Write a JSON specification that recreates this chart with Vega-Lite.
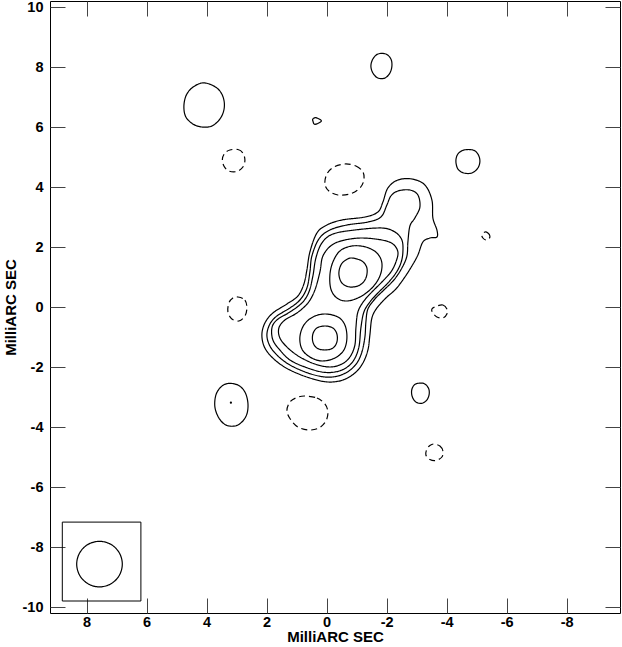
{
"$schema":"https://vega.github.io/schema/vega-lite/v6.json",
"width":570,"height":612,
"autosize":{"type":"none"},
"padding":{"left":50,"top":1,"right":2,"bottom":34},
"config":{"view":{"stroke":"black","strokeWidth":1},
"axis":{"labelFont":"Liberation Sans","labelFontWeight":"bold","labelFontSize":14.5,"labelColor":"black","titleFont":"Liberation Sans","titleFontWeight":"bold","titleFontSize":15,"titleColor":"black","tickColor":"#444","tickSize":-15,"grid":false,"domain":false}},
"datasets":{
"contours":[
{"c":"L1","s":"pos","x":-2.377,"y":4.233},{"c":"L1","s":"pos","x":-2.843,"y":4.267},{"c":"L1","s":"pos","x":-3.277,"y":4.067},{"c":"L1","s":"pos","x":-3.51,"y":3.567},{"c":"L1","s":"pos","x":-3.543,"y":2.967},{"c":"L1","s":"pos","x":-3.677,"y":2.567},{"c":"L1","s":"pos","x":-3.677,"y":2.333},{"c":"L1","s":"pos","x":-3.443,"y":2.3},{"c":"L1","s":"pos","x":-3.21,"y":2.167},{"c":"L1","s":"pos","x":-3.043,"y":1.733},{"c":"L1","s":"pos","x":-2.843,"y":1.367},{"c":"L1","s":"pos","x":-2.61,"y":1.0},{"c":"L1","s":"pos","x":-2.31,"y":0.6},{"c":"L1","s":"pos","x":-1.977,"y":0.3},{"c":"L1","s":"pos","x":-1.677,"y":-0.033},{"c":"L1","s":"pos","x":-1.51,"y":-0.367},{"c":"L1","s":"pos","x":-1.443,"y":-0.933},{"c":"L1","s":"pos","x":-1.377,"y":-1.433},{"c":"L1","s":"pos","x":-1.21,"y":-1.867},{"c":"L1","s":"pos","x":-0.943,"y":-2.2},{"c":"L1","s":"pos","x":-0.543,"y":-2.433},{"c":"L1","s":"pos","x":-0.043,"y":-2.5},{"c":"L1","s":"pos","x":0.557,"y":-2.367},{"c":"L1","s":"pos","x":1.223,"y":-2.1},{"c":"L1","s":"pos","x":1.723,"y":-1.767},{"c":"L1","s":"pos","x":2.057,"y":-1.367},{"c":"L1","s":"pos","x":2.157,"y":-0.933},{"c":"L1","s":"pos","x":2.057,"y":-0.533},{"c":"L1","s":"pos","x":1.79,"y":-0.2},{"c":"L1","s":"pos","x":1.323,"y":0.1},{"c":"L1","s":"pos","x":0.957,"y":0.367},{"c":"L1","s":"pos","x":0.757,"y":0.767},{"c":"L1","s":"pos","x":0.657,"y":1.233},{"c":"L1","s":"pos","x":0.557,"y":1.833},{"c":"L1","s":"pos","x":0.323,"y":2.467},{"c":"L1","s":"pos","x":-0.01,"y":2.733},{"c":"L1","s":"pos","x":-0.51,"y":2.9},{"c":"L1","s":"pos","x":-1.277,"y":3.0},{"c":"L1","s":"pos","x":-1.71,"y":3.167},{"c":"L1","s":"pos","x":-1.877,"y":3.5},{"c":"L1","s":"pos","x":-2.043,"y":3.967},
{"c":"L2","s":"pos","x":-2.377,"y":3.867},{"c":"L2","s":"pos","x":-2.777,"y":3.9},{"c":"L2","s":"pos","x":-3.043,"y":3.733},{"c":"L2","s":"pos","x":-3.11,"y":3.333},{"c":"L2","s":"pos","x":-2.943,"y":2.967},{"c":"L2","s":"pos","x":-2.777,"y":2.7},{"c":"L2","s":"pos","x":-2.71,"y":2.167},{"c":"L2","s":"pos","x":-2.677,"y":1.7},{"c":"L2","s":"pos","x":-2.51,"y":1.3},{"c":"L2","s":"pos","x":-2.243,"y":0.9},{"c":"L2","s":"pos","x":-1.91,"y":0.567},{"c":"L2","s":"pos","x":-1.61,"y":0.267},{"c":"L2","s":"pos","x":-1.377,"y":-0.067},{"c":"L2","s":"pos","x":-1.31,"y":-0.5},{"c":"L2","s":"pos","x":-1.277,"y":-1.0},{"c":"L2","s":"pos","x":-1.177,"y":-1.5},{"c":"L2","s":"pos","x":-1.01,"y":-1.867},{"c":"L2","s":"pos","x":-0.743,"y":-2.133},{"c":"L2","s":"pos","x":-0.377,"y":-2.3},{"c":"L2","s":"pos","x":0.057,"y":-2.333},{"c":"L2","s":"pos","x":0.623,"y":-2.2},{"c":"L2","s":"pos","x":1.223,"y":-1.933},{"c":"L2","s":"pos","x":1.623,"y":-1.633},{"c":"L2","s":"pos","x":1.89,"y":-1.3},{"c":"L2","s":"pos","x":1.99,"y":-0.933},{"c":"L2","s":"pos","x":1.89,"y":-0.567},{"c":"L2","s":"pos","x":1.657,"y":-0.3},{"c":"L2","s":"pos","x":1.223,"y":-0.033},{"c":"L2","s":"pos","x":0.89,"y":0.233},{"c":"L2","s":"pos","x":0.657,"y":0.633},{"c":"L2","s":"pos","x":0.557,"y":1.167},{"c":"L2","s":"pos","x":0.49,"y":1.7},{"c":"L2","s":"pos","x":0.257,"y":2.267},{"c":"L2","s":"pos","x":-0.11,"y":2.567},{"c":"L2","s":"pos","x":-0.677,"y":2.733},{"c":"L2","s":"pos","x":-1.377,"y":2.833},{"c":"L2","s":"pos","x":-1.81,"y":3.0},{"c":"L2","s":"pos","x":-2.01,"y":3.4},{"c":"L2","s":"pos","x":-2.143,"y":3.7},
{"c":"L3","s":"pos","x":-0.943,"y":2.567},{"c":"L3","s":"pos","x":-1.843,"y":2.633},{"c":"L3","s":"pos","x":-2.277,"y":2.5},{"c":"L3","s":"pos","x":-2.51,"y":2.233},{"c":"L3","s":"pos","x":-2.543,"y":1.833},{"c":"L3","s":"pos","x":-2.477,"y":1.467},{"c":"L3","s":"pos","x":-2.31,"y":1.133},{"c":"L3","s":"pos","x":-2.043,"y":0.8},{"c":"L3","s":"pos","x":-1.71,"y":0.467},{"c":"L3","s":"pos","x":-1.443,"y":0.167},{"c":"L3","s":"pos","x":-1.243,"y":-0.167},{"c":"L3","s":"pos","x":-1.143,"y":-0.7},{"c":"L3","s":"pos","x":-1.077,"y":-1.333},{"c":"L3","s":"pos","x":-0.91,"y":-1.767},{"c":"L3","s":"pos","x":-0.643,"y":-2.033},{"c":"L3","s":"pos","x":-0.277,"y":-2.167},{"c":"L3","s":"pos","x":0.157,"y":-2.167},{"c":"L3","s":"pos","x":0.723,"y":-2.0},{"c":"L3","s":"pos","x":1.223,"y":-1.767},{"c":"L3","s":"pos","x":1.557,"y":-1.433},{"c":"L3","s":"pos","x":1.79,"y":-1.1},{"c":"L3","s":"pos","x":1.823,"y":-0.7},{"c":"L3","s":"pos","x":1.657,"y":-0.433},{"c":"L3","s":"pos","x":1.223,"y":-0.167},{"c":"L3","s":"pos","x":0.823,"y":0.133},{"c":"L3","s":"pos","x":0.59,"y":0.5},{"c":"L3","s":"pos","x":0.457,"y":1.033},{"c":"L3","s":"pos","x":0.357,"y":1.633},{"c":"L3","s":"pos","x":0.157,"y":2.133},{"c":"L3","s":"pos","x":-0.21,"y":2.433},
{"c":"L4","s":"pos","x":-1.177,"y":2.3},{"c":"L4","s":"pos","x":-1.843,"y":2.233},{"c":"L4","s":"pos","x":-2.21,"y":2.1},{"c":"L4","s":"pos","x":-2.377,"y":1.833},{"c":"L4","s":"pos","x":-2.31,"y":1.5},{"c":"L4","s":"pos","x":-2.143,"y":1.167},{"c":"L4","s":"pos","x":-1.843,"y":0.833},{"c":"L4","s":"pos","x":-1.51,"y":0.5},{"c":"L4","s":"pos","x":-1.243,"y":0.2},{"c":"L4","s":"pos","x":-1.043,"y":-0.167},{"c":"L4","s":"pos","x":-0.977,"y":-0.7},{"c":"L4","s":"pos","x":-0.943,"y":-1.267},{"c":"L4","s":"pos","x":-0.777,"y":-1.667},{"c":"L4","s":"pos","x":-0.51,"y":-1.9},{"c":"L4","s":"pos","x":-0.11,"y":-2.0},{"c":"L4","s":"pos","x":0.39,"y":-1.9},{"c":"L4","s":"pos","x":0.89,"y":-1.667},{"c":"L4","s":"pos","x":1.29,"y":-1.367},{"c":"L4","s":"pos","x":1.557,"y":-1.033},{"c":"L4","s":"pos","x":1.59,"y":-0.7},{"c":"L4","s":"pos","x":1.39,"y":-0.433},{"c":"L4","s":"pos","x":0.99,"y":-0.2},{"c":"L4","s":"pos","x":0.623,"y":0.133},{"c":"L4","s":"pos","x":0.39,"y":0.567},{"c":"L4","s":"pos","x":0.223,"y":1.167},{"c":"L4","s":"pos","x":0.123,"y":1.7},{"c":"L4","s":"pos","x":-0.177,"y":2.067},{"c":"L4","s":"pos","x":-0.61,"y":2.233},
{"c":"L5N","s":"pos","x":-0.843,"y":2.033},{"c":"L5N","s":"pos","x":-1.31,"y":2.0},{"c":"L5N","s":"pos","x":-1.677,"y":1.8},{"c":"L5N","s":"pos","x":-1.843,"y":1.467},{"c":"L5N","s":"pos","x":-1.777,"y":1.033},{"c":"L5N","s":"pos","x":-1.51,"y":0.633},{"c":"L5N","s":"pos","x":-1.11,"y":0.333},{"c":"L5N","s":"pos","x":-0.677,"y":0.2},{"c":"L5N","s":"pos","x":-0.343,"y":0.3},{"c":"L5N","s":"pos","x":-0.143,"y":0.6},{"c":"L5N","s":"pos","x":-0.11,"y":1.067},{"c":"L5N","s":"pos","x":-0.21,"y":1.5},{"c":"L5N","s":"pos","x":-0.443,"y":1.867},
{"c":"L6N","s":"pos","x":-0.843,"y":1.633},{"c":"L6N","s":"pos","x":-1.177,"y":1.533},{"c":"L6N","s":"pos","x":-1.343,"y":1.3},{"c":"L6N","s":"pos","x":-1.31,"y":0.967},{"c":"L6N","s":"pos","x":-1.11,"y":0.733},{"c":"L6N","s":"pos","x":-0.777,"y":0.667},{"c":"L6N","s":"pos","x":-0.51,"y":0.8},{"c":"L6N","s":"pos","x":-0.41,"y":1.1},{"c":"L6N","s":"pos","x":-0.477,"y":1.4},{"c":"L6N","s":"pos","x":-0.643,"y":1.567},
{"c":"L5S","s":"pos","x":0.057,"y":-0.233},{"c":"L5S","s":"pos","x":-0.377,"y":-0.333},{"c":"L5S","s":"pos","x":-0.61,"y":-0.6},{"c":"L5S","s":"pos","x":-0.677,"y":-1.033},{"c":"L5S","s":"pos","x":-0.577,"y":-1.433},{"c":"L5S","s":"pos","x":-0.277,"y":-1.7},{"c":"L5S","s":"pos","x":0.157,"y":-1.8},{"c":"L5S","s":"pos","x":0.557,"y":-1.667},{"c":"L5S","s":"pos","x":0.823,"y":-1.4},{"c":"L5S","s":"pos","x":0.89,"y":-1.0},{"c":"L5S","s":"pos","x":0.757,"y":-0.6},{"c":"L5S","s":"pos","x":0.457,"y":-0.333},
{"c":"L6S","s":"pos","x":0.057,"y":-0.633},{"c":"L6S","s":"pos","x":-0.21,"y":-0.7},{"c":"L6S","s":"pos","x":-0.343,"y":-0.9},{"c":"L6S","s":"pos","x":-0.343,"y":-1.167},{"c":"L6S","s":"pos","x":-0.21,"y":-1.367},{"c":"L6S","s":"pos","x":0.057,"y":-1.433},{"c":"L6S","s":"pos","x":0.323,"y":-1.367},{"c":"L6S","s":"pos","x":0.457,"y":-1.167},{"c":"L6S","s":"pos","x":0.457,"y":-0.9},{"c":"L6S","s":"pos","x":0.323,"y":-0.7},
{"c":"C1","s":"pos","x":4.157,"y":7.467},{"c":"C1","s":"pos","x":3.823,"y":7.4},{"c":"C1","s":"pos","x":3.557,"y":7.2},{"c":"C1","s":"pos","x":3.423,"y":6.9},{"c":"C1","s":"pos","x":3.423,"y":6.567},{"c":"C1","s":"pos","x":3.557,"y":6.267},{"c":"C1","s":"pos","x":3.823,"y":6.033},{"c":"C1","s":"pos","x":4.157,"y":6.0},{"c":"C1","s":"pos","x":4.457,"y":6.1},{"c":"C1","s":"pos","x":4.69,"y":6.333},{"c":"C1","s":"pos","x":4.757,"y":6.667},{"c":"C1","s":"pos","x":4.69,"y":7.033},{"c":"C1","s":"pos","x":4.49,"y":7.3},
{"c":"C2","s":"pos","x":-1.71,"y":8.433},{"c":"C2","s":"pos","x":-1.977,"y":8.433},{"c":"C2","s":"pos","x":-2.143,"y":8.267},{"c":"C2","s":"pos","x":-2.177,"y":8.033},{"c":"C2","s":"pos","x":-2.11,"y":7.8},{"c":"C2","s":"pos","x":-1.943,"y":7.633},{"c":"C2","s":"pos","x":-1.71,"y":7.633},{"c":"C2","s":"pos","x":-1.543,"y":7.8},{"c":"C2","s":"pos","x":-1.477,"y":8.033},{"c":"C2","s":"pos","x":-1.543,"y":8.267},
{"c":"C3","s":"pos","x":0.457,"y":6.267},{"c":"C3","s":"pos","x":0.357,"y":6.31},{"c":"C3","s":"pos","x":0.173,"y":6.2},{"c":"C3","s":"pos","x":0.39,"y":6.09},{"c":"C3","s":"pos","x":0.457,"y":6.2},
{"c":"C4","s":"pos","x":-4.577,"y":5.233},{"c":"C4","s":"pos","x":-4.877,"y":5.233},{"c":"C4","s":"pos","x":-5.043,"y":5.1},{"c":"C4","s":"pos","x":-5.11,"y":4.867},{"c":"C4","s":"pos","x":-5.043,"y":4.633},{"c":"C4","s":"pos","x":-4.843,"y":4.467},{"c":"C4","s":"pos","x":-4.577,"y":4.467},{"c":"C4","s":"pos","x":-4.377,"y":4.6},{"c":"C4","s":"pos","x":-4.31,"y":4.867},{"c":"C4","s":"pos","x":-4.377,"y":5.1},
{"c":"C5","s":"pos","x":3.29,"y":-2.55},{"c":"C5","s":"pos","x":2.957,"y":-2.6},{"c":"C5","s":"pos","x":2.723,"y":-2.833},{"c":"C5","s":"pos","x":2.623,"y":-3.2},{"c":"C5","s":"pos","x":2.657,"y":-3.567},{"c":"C5","s":"pos","x":2.823,"y":-3.833},{"c":"C5","s":"pos","x":3.057,"y":-3.967},{"c":"C5","s":"pos","x":3.357,"y":-3.933},{"c":"C5","s":"pos","x":3.59,"y":-3.7},{"c":"C5","s":"pos","x":3.723,"y":-3.333},{"c":"C5","s":"pos","x":3.69,"y":-2.933},{"c":"C5","s":"pos","x":3.523,"y":-2.667},
{"c":"C6","s":"pos","x":-3.01,"y":-2.55},{"c":"C6","s":"pos","x":-3.243,"y":-2.55},{"c":"C6","s":"pos","x":-3.393,"y":-2.7},{"c":"C6","s":"pos","x":-3.42,"y":-2.9},{"c":"C6","s":"pos","x":-3.343,"y":-3.1},{"c":"C6","s":"pos","x":-3.177,"y":-3.21},{"c":"C6","s":"pos","x":-2.977,"y":-3.167},{"c":"C6","s":"pos","x":-2.86,"y":-3.0},{"c":"C6","s":"pos","x":-2.833,"y":-2.8},{"c":"C6","s":"pos","x":-2.893,"y":-2.633},
{"c":"D1","s":"neg","x":-5.277,"y":2.5},{"c":"D1","s":"neg","x":-5.377,"y":2.467},{"c":"D1","s":"neg","x":-5.443,"y":2.367},{"c":"D1","s":"neg","x":-5.41,"y":2.267},{"c":"D1","s":"neg","x":-5.31,"y":2.233},{"c":"D1","s":"neg","x":-5.21,"y":2.3},{"c":"D1","s":"neg","x":-5.177,"y":2.4},
{"c":"D2","s":"neg","x":3.223,"y":5.233},{"c":"D2","s":"neg","x":2.957,"y":5.25},{"c":"D2","s":"neg","x":2.79,"y":5.133},{"c":"D2","s":"neg","x":2.723,"y":4.9},{"c":"D2","s":"neg","x":2.79,"y":4.667},{"c":"D2","s":"neg","x":2.99,"y":4.517},{"c":"D2","s":"neg","x":3.257,"y":4.533},{"c":"D2","s":"neg","x":3.423,"y":4.7},{"c":"D2","s":"neg","x":3.473,"y":4.933},{"c":"D2","s":"neg","x":3.39,"y":5.133},
{"c":"D3","s":"neg","x":-0.61,"y":4.767},{"c":"D3","s":"neg","x":-0.977,"y":4.7},{"c":"D3","s":"neg","x":-1.21,"y":4.5},{"c":"D3","s":"neg","x":-1.243,"y":4.233},{"c":"D3","s":"neg","x":-1.11,"y":3.967},{"c":"D3","s":"neg","x":-0.777,"y":3.767},{"c":"D3","s":"neg","x":-0.377,"y":3.733},{"c":"D3","s":"neg","x":-0.077,"y":3.867},{"c":"D3","s":"neg","x":0.057,"y":4.1},{"c":"D3","s":"neg","x":-0.01,"y":4.433},{"c":"D3","s":"neg","x":-0.243,"y":4.667},
{"c":"D4","s":"neg","x":2.957,"y":0.333},{"c":"D4","s":"neg","x":2.723,"y":0.233},{"c":"D4","s":"neg","x":2.657,"y":-0.033},{"c":"D4","s":"neg","x":2.723,"y":-0.3},{"c":"D4","s":"neg","x":2.923,"y":-0.467},{"c":"D4","s":"neg","x":3.157,"y":-0.4},{"c":"D4","s":"neg","x":3.29,"y":-0.167},{"c":"D4","s":"neg","x":3.257,"y":0.133},{"c":"D4","s":"neg","x":3.123,"y":0.3},
{"c":"D5","s":"neg","x":-3.677,"y":0.033},{"c":"D5","s":"neg","x":-3.877,"y":0.067},{"c":"D5","s":"neg","x":-4.01,"y":-0.067},{"c":"D5","s":"neg","x":-4.01,"y":-0.233},{"c":"D5","s":"neg","x":-3.877,"y":-0.367},{"c":"D5","s":"neg","x":-3.677,"y":-0.333},{"c":"D5","s":"neg","x":-3.543,"y":-0.2},{"c":"D5","s":"neg","x":-3.51,"y":-0.067},
{"c":"D6","s":"neg","x":0.723,"y":-2.967},{"c":"D6","s":"neg","x":0.323,"y":-3.033},{"c":"D6","s":"neg","x":0.057,"y":-3.233},{"c":"D6","s":"neg","x":-0.043,"y":-3.5},{"c":"D6","s":"neg","x":0.023,"y":-3.8},{"c":"D6","s":"neg","x":0.257,"y":-4.033},{"c":"D6","s":"neg","x":0.59,"y":-4.1},{"c":"D6","s":"neg","x":0.957,"y":-4.0},{"c":"D6","s":"neg","x":1.19,"y":-3.767},{"c":"D6","s":"neg","x":1.323,"y":-3.467},{"c":"D6","s":"neg","x":1.223,"y":-3.167},{"c":"D6","s":"neg","x":0.99,"y":-3.017},
{"c":"D7","s":"neg","x":-3.577,"y":-4.567},{"c":"D7","s":"neg","x":-3.777,"y":-4.633},{"c":"D7","s":"neg","x":-3.877,"y":-4.8},{"c":"D7","s":"neg","x":-3.843,"y":-5.0},{"c":"D7","s":"neg","x":-3.643,"y":-5.117},{"c":"D7","s":"neg","x":-3.443,"y":-5.083},{"c":"D7","s":"neg","x":-3.31,"y":-4.933},{"c":"D7","s":"neg","x":-3.343,"y":-4.733},{"c":"D7","s":"neg","x":-3.443,"y":-4.617},
{"c":"beam","s":"pos","x":8.33,"y":-8.57},{"c":"beam","s":"pos","x":8.228,"y":-8.19},{"c":"beam","s":"pos","x":7.95,"y":-7.912},{"c":"beam","s":"pos","x":7.57,"y":-7.81},{"c":"beam","s":"pos","x":7.19,"y":-7.912},{"c":"beam","s":"pos","x":6.912,"y":-8.19},{"c":"beam","s":"pos","x":6.81,"y":-8.57},{"c":"beam","s":"pos","x":6.912,"y":-8.95},{"c":"beam","s":"pos","x":7.19,"y":-9.228},{"c":"beam","s":"pos","x":7.57,"y":-9.33},{"c":"beam","s":"pos","x":7.95,"y":-9.228},{"c":"beam","s":"pos","x":8.228,"y":-8.95}
],
"box":[{"x1":8.81,"x2":6.19,"y1":-7.17,"y2":-9.8}],
"dot":[{"x":3.19,"y":-3.19}]
},
"layer":[
{"data":{"name":"contours"},
"mark":{"type":"line","interpolate":"cardinal-closed","color":"black","strokeWidth":1.2},
"encoding":{
"x":{"field":"x","type":"quantitative","scale":{"domain":[-9.78,9.22],"reverse":true,"nice":false,"zero":false},
"axis":{"orient":"bottom","values":[-8,-6,-4,-2,0,2,4,6,8],"labelExpr":"'' + datum.value","labelPadding":17,"title":"MilliARC SEC","titlePadding":1}},
"y":{"field":"y","type":"quantitative","scale":{"domain":[-10.2,10.2],"nice":false,"zero":false},
"axis":{"orient":"left","values":[-10,-8,-6,-4,-2,0,2,4,6,8,10],"labelExpr":"'' + datum.value","labelPadding":22,"title":"MilliARC SEC","titlePadding":4}},
"detail":{"field":"c"},
"strokeDash":{"field":"s","type":"nominal","scale":{"domain":["pos","neg"],"range":[[1,0],[6,4]]},"legend":null},
"order":{"value":null}}},
{"data":{"name":"box"},
"mark":{"type":"rect","fill":null,"fillOpacity":0,"stroke":"black","strokeWidth":1},
"encoding":{
"x":{"field":"x1","type":"quantitative","axis":{"orient":"top","values":[-8,-6,-4,-2,0,2,4,6,8],"labels":false,"title":null}},
"x2":{"field":"x2"},
"y":{"field":"y1","type":"quantitative","axis":{"orient":"right","values":[-10,-8,-6,-4,-2,0,2,4,6,8,10],"labels":false,"title":null}},
"y2":{"field":"y2"}}},
{"data":{"name":"dot"},
"mark":{"type":"point","filled":true,"color":"black","size":5,"opacity":1},
"encoding":{"x":{"field":"x","type":"quantitative","axis":null},"y":{"field":"y","type":"quantitative","axis":null}}}
],
"resolve":{"axis":{"x":"independent","y":"independent"}}
}
